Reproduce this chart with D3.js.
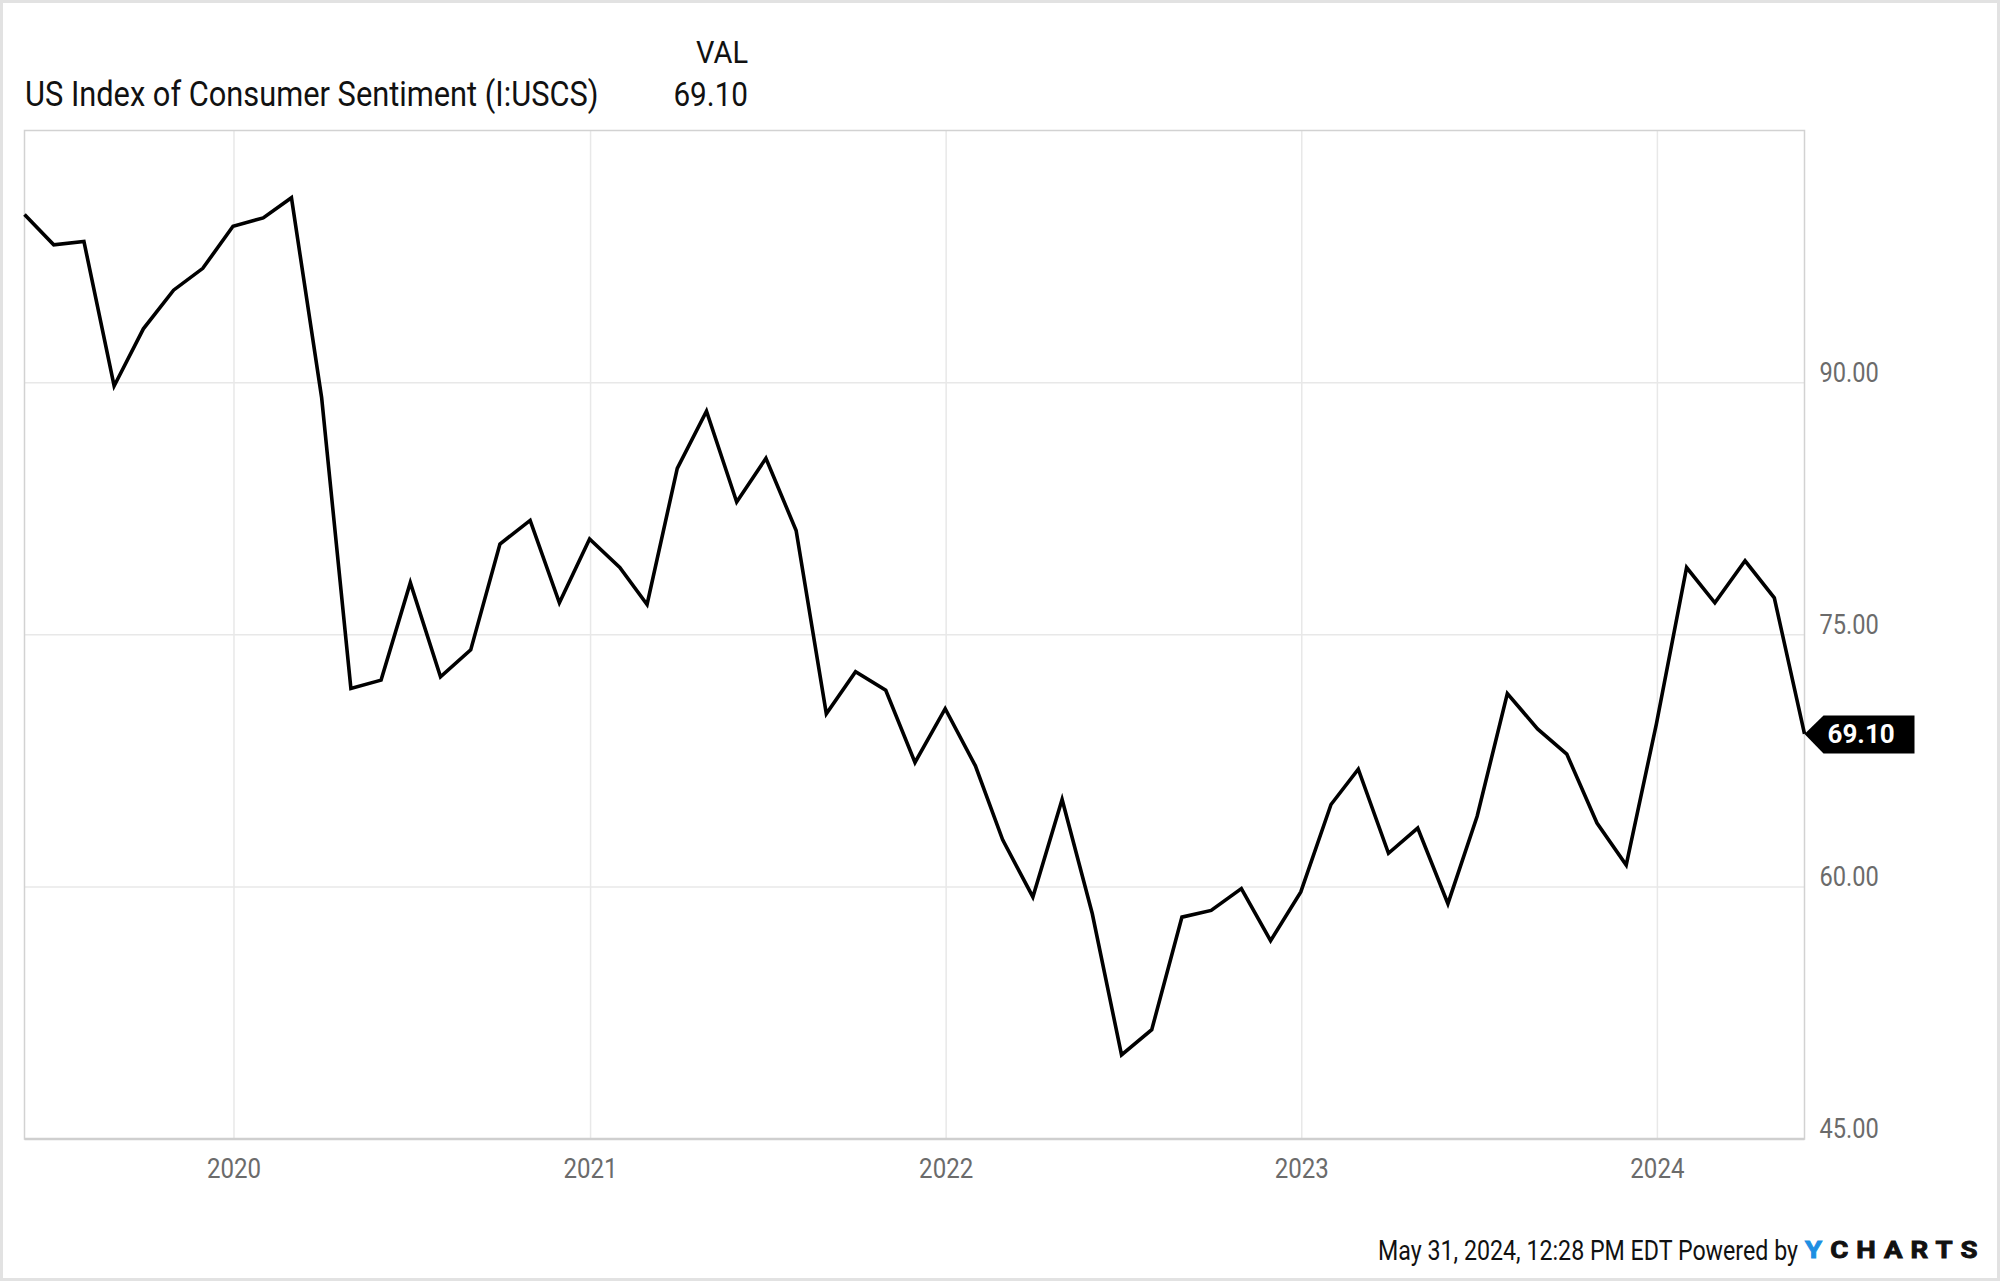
<!DOCTYPE html>
<html>
<head>
<meta charset="utf-8">
<script src="https://cdn.jsdelivr.net/npm/d3@7"></script>
<style>
  body { margin: 0; background: #fff; }
  text { font-family: Roboto, "Noto Sans", sans-serif; }
</style>
</head>
<body>
<svg id="chart" width="2000" height="1281"></svg>
<script>
/* datos: índice mensual de la Universidad de Michigan, mayo 2019 → mayo 2024 */
const months = [
  "2019-05","2019-06","2019-07","2019-08","2019-09","2019-10","2019-11","2019-12",
  "2020-01","2020-02","2020-03","2020-04","2020-05","2020-06","2020-07","2020-08","2020-09","2020-10","2020-11","2020-12",
  "2021-01","2021-02","2021-03","2021-04","2021-05","2021-06","2021-07","2021-08","2021-09","2021-10","2021-11","2021-12",
  "2022-01","2022-02","2022-03","2022-04","2022-05","2022-06","2022-07","2022-08","2022-09","2022-10","2022-11","2022-12",
  "2023-01","2023-02","2023-03","2023-04","2023-05","2023-06","2023-07","2023-08","2023-09","2023-10","2023-11","2023-12",
  "2024-01","2024-02","2024-03","2024-04","2024-05"
];
const sentiment = [
  100.0, 98.2, 98.4, 89.8, 93.2, 95.5, 96.8, 99.3,
  99.8, 101.0, 89.1, 71.8, 72.3, 78.1, 72.5, 74.1, 80.4, 81.8, 76.9, 80.7,
  79.0, 76.8, 84.9, 88.3, 82.9, 85.5, 81.2, 70.3, 72.8, 71.7, 67.4, 70.6,
  67.2, 62.8, 59.4, 65.2, 58.4, 50.0, 51.5, 58.2, 58.6, 59.9, 56.8, 59.7,
  64.9, 67.0, 62.0, 63.5, 59.0, 64.2, 71.5, 69.4, 67.9, 63.8, 61.3, 69.7,
  79.0, 76.9, 79.4, 77.2, 69.1
];
const yearTicks  = [2020, 2021, 2022, 2023, 2024];
const valueTicks = [45, 60, 75, 90];
const valueDomain = [45, 105];

const seriesName = "US Index of Consumer Sentiment (I:USCS)";
const colHeader  = "VAL";
const stamp      = "May 31, 2024, 12:28 PM EDT Powered by";

/* ── medidas ── */
const W = 2000, H = 1281;
const plot = { left: 24.5, right: 1804.5, top: 130.5, bottom: 1139 };
const axisGray = "#6b6b6b";

const svg = d3.select("#chart");

const parseMonth = d3.timeParse("%Y-%m");
const monthEnd = m => d3.timeDay.offset(d3.timeMonth.offset(parseMonth(m), 1), -1);
const points = months.map((m, i) => ({ date: monthEnd(m), value: sentiment[i] }));

const x = d3.scaleTime()
  .domain(d3.extent(points, d => d.date))
  .range([plot.left, plot.right]);
const y = d3.scaleLinear()
  .domain(valueDomain)
  .range([plot.bottom, plot.top]);

/* texto angosto: se posiciona con translate y se comprime con scale (Roboto no tiene versión condensada aquí) */
function narrowText(g, px, py, str, opts) {
  const k = opts.k || 0.86;
  const t = g.append("text")
    .attr("transform", `translate(${px},${py}) scale(${k},1)`)
    .attr("font-size", opts.size + "px")
    .attr("fill", opts.fill || "#111")
    .attr("text-anchor", opts.anchor || "start")
    .text(str);
  if (opts.weight) t.attr("font-weight", opts.weight);
  return t;
}

/* marco exterior */
svg.append("rect")
  .attr("x", 1.5).attr("y", 1.5)
  .attr("width", W - 3).attr("height", H - 3)
  .attr("fill", "#fff")
  .attr("stroke", "#e2e2e2")
  .attr("stroke-width", 3);

/* grilla */
const grid = svg.append("g");
grid.selectAll("line.h")
  .data(valueTicks.filter(v => v > valueDomain[0]))
  .join("line")
  .attr("x1", plot.left).attr("x2", plot.right)
  .attr("y1", d => y(d)).attr("y2", d => y(d))
  .attr("stroke", "#e8e8e8").attr("stroke-width", 1.5);

grid.selectAll("line.v")
  .data(yearTicks)
  .join("line")
  .attr("x1", d => x(new Date(d, 0, 1))).attr("x2", d => x(new Date(d, 0, 1)))
  .attr("y1", plot.top).attr("y2", plot.bottom)
  .attr("stroke", "#e8e8e8").attr("stroke-width", 1.5);

/* borde del área */
svg.append("rect")
  .attr("x", plot.left).attr("y", plot.top)
  .attr("width", plot.right - plot.left).attr("height", plot.bottom - plot.top)
  .attr("fill", "none")
  .attr("stroke", "#d2d2d2")
  .attr("stroke-width", 1.5);
svg.append("line")
  .attr("x1", plot.left).attr("x2", plot.right)
  .attr("y1", plot.bottom).attr("y2", plot.bottom)
  .attr("stroke", "#cfcfcf").attr("stroke-width", 2.5);

/* línea de la serie */
svg.append("path")
  .datum(points)
  .attr("fill", "none")
  .attr("stroke", "#000")
  .attr("stroke-width", 3.6)
  .attr("stroke-linejoin", "miter")
  .attr("d", d3.line().x(d => x(d.date)).y(d => y(d.value)));

/* eje y a la derecha */
const yLab = svg.append("g");
valueTicks.forEach(v => {
  narrowText(yLab, plot.right + 15, y(v) - 1, d3.format(".2f")(v), { size: 27.5, fill: axisGray });
});

/* eje x */
const xLab = svg.append("g");
yearTicks.forEach(yr => {
  narrowText(xLab, x(new Date(yr, 0, 1)), plot.bottom + 38.5, String(yr),
    { size: 28, fill: axisGray, anchor: "middle" });
});

/* etiqueta del último valor */
const last = points[points.length - 1];
const tx = x(last.date), ty = y(last.value);
const tag = svg.append("g").attr("transform", `translate(${tx},${ty})`);
tag.append("path")
  .attr("d", "M0,0 L19,-18.5 L110,-18.5 L110,19.5 L19,19.5 Z")
  .attr("fill", "#000");
tag.append("text")
  .attr("x", 23).attr("y", 9.2)
  .attr("font-family", "'Open Sans', 'Noto Sans', sans-serif")
  .attr("font-weight", 700)
  .attr("font-size", "26px")
  .attr("fill", "#fff")
  .text(d3.format(".2f")(last.value));

/* encabezado / leyenda */
const head = svg.append("g");
narrowText(head, 25, 106, seriesName, { size: 35, k: 0.88 });
narrowText(head, 748, 63, colHeader, { size: 31.5, k: 0.92, anchor: "end" });
narrowText(head, 748, 106, d3.format(".2f")(last.value), { size: 33, k: 0.9, anchor: "end" });

/* pie */
const foot = svg.append("g");
narrowText(foot, 1378, 1260, stamp, { size: 27 });

/* logotipo: letras anchas y gruesas */
const logo = foot.append("text")
  .attr("transform", "translate(1805,1258) scale(1.15,1)")
  .attr("font-family", "'DejaVu Sans', sans-serif")
  .attr("font-weight", 700)
  .attr("font-size", "24px")
  .attr("letter-spacing", "7px")
  .attr("stroke-width", 0.9);
logo.append("tspan").attr("fill", "#1d8fe2").attr("stroke", "#1d8fe2").text("Y");
logo.append("tspan").attr("fill", "#111").attr("stroke", "#111").text("CHARTS");
</script>
</body>
</html>
